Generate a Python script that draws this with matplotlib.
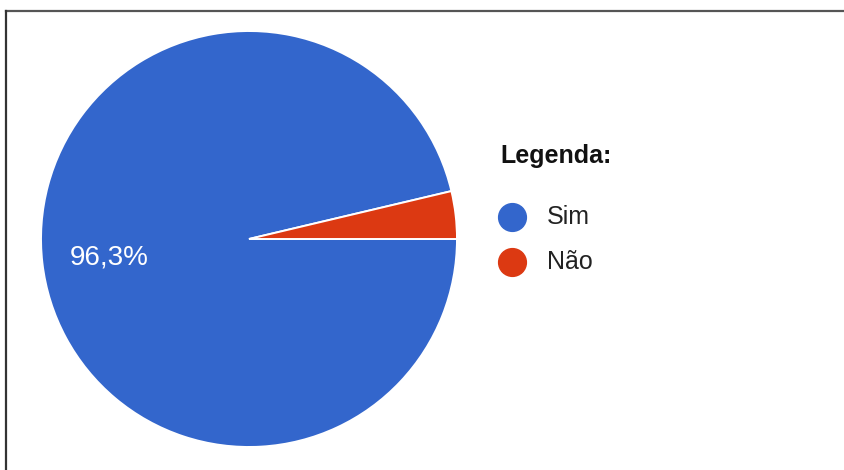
import matplotlib
matplotlib.use("Agg")
import matplotlib.pyplot as plt
from matplotlib.lines import Line2D

plt.rcParams['font.family'] = ['Liberation Sans', 'DejaVu Sans']

# Respostas
categorias = ["Sim", "Não"]
percentuais = [96.3, 3.7]
cores = ["#3366cc", "#dc3912"]
titulo_legenda = "Legenda:"

W, H = 845, 470
fig = plt.figure(figsize=(W / 100, H / 100), dpi=100)

# pie area: center (249, 239) px, radius 208 px
cx, cy, r = 249, 239, 208
ax = fig.add_axes([(cx - r) / W, (H - cy - r) / H, 2 * r / W, 2 * r / H])
wedges, textos, autotextos = ax.pie(
    percentuais,
    colors=cores,
    startangle=0,
    counterclock=False,
    autopct=lambda p: f"{p:.1f}%".replace(".", ",") if p > 10 else "",
    wedgeprops=dict(edgecolor="white", linewidth=1.4),
    textprops=dict(color="white", fontsize=20),
)
autotextos[0].set_position((-0.67, -0.09))
ax.set_xlim(-1, 1)
ax.set_ylim(-1, 1)
ax.set_aspect("equal")
ax.axis("off")

# legend, drawn by hand
fig.text(500 / W, 1 - 156 / H, titulo_legenda, fontsize=18, fontweight="bold",
         va="center", ha="left", color="#111111")
for i, (nome, cor) in enumerate(zip(categorias, cores)):
    y = 1 - (217 + 45 * i) / H
    fig.add_artist(Line2D([512 / W], [y], marker="o", markersize=20,
                          markerfacecolor=cor, markeredgecolor=cor,
                          transform=fig.transFigure))
    fig.text(547 / W, y, nome, fontsize=18, va="center", ha="left", color="#222222")

# frame around the chart
fig.add_artist(Line2D([6.5 / W, 1.0], [1 - 11 / H, 1 - 11 / H], color="#555555",
                      linewidth=1.6, transform=fig.transFigure))
fig.add_artist(Line2D([6.5 / W, 6.5 / W], [0, 1 - 11 / H], color="#333333",
                      linewidth=1.6, transform=fig.transFigure))

fig.savefig("out.png", dpi=100)
